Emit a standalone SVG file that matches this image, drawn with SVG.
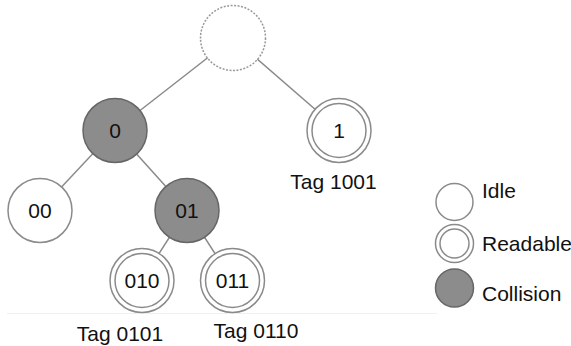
<svg xmlns="http://www.w3.org/2000/svg" width="571" height="346" viewBox="0 0 571 346">
<style>
text{font-family:"Liberation Sans",Arial,sans-serif;font-size:21px;fill:#111}
.c{text-anchor:middle}
.edge{stroke:#8a8a8a;stroke-width:1.5;fill:none}
.idle{fill:#fff;stroke:#8a8a8a;stroke-width:1.5}
.coll{fill:#8c8c8c;stroke:#666;stroke-width:1.5}
.dash{fill:#fff;stroke:#999;stroke-width:1.5;stroke-dasharray:2 1.5}
.in{fill:none;stroke:#8a8a8a;stroke-width:1.5}
</style>
<rect width="571" height="346" fill="#fff"/>
<line x1="7" y1="313.5" x2="437" y2="313.5" stroke="#f0f0f0" stroke-width="1"/>
<g id="connectors">
<line class="edge" x1="233" y1="38" x2="115" y2="130"/>
<line class="edge" x1="233" y1="38" x2="339" y2="130"/>
<line class="edge" x1="115" y1="130" x2="40" y2="210"/>
<line class="edge" x1="115" y1="130" x2="187" y2="210"/>
<line class="edge" x1="187" y1="210" x2="142" y2="280"/>
<line class="edge" x1="187" y1="210" x2="232" y2="280"/>
</g>
<g id="root"><circle class="dash" cx="233" cy="38" r="32.5"/></g>
<g id="n0"><circle class="coll" cx="115" cy="130.5" r="32"/><text class="c" x="115" y="138">0</text></g>
<g id="n1"><circle class="idle" cx="339" cy="130.5" r="32"/><circle class="in" cx="339" cy="130.5" r="27"/><text class="c" x="339" y="138">1</text></g>
<g id="tag1001"><text class="c" x="333.5" y="189">Tag 1001</text></g>
<g id="n00"><circle class="idle" cx="40" cy="210.5" r="32"/><text class="c" x="40" y="218">00</text></g>
<g id="n01"><circle class="coll" cx="187" cy="210.5" r="32"/><text class="c" x="187" y="218">01</text></g>
<g id="n010"><circle class="idle" cx="142" cy="280.5" r="32"/><circle class="in" cx="142" cy="280.5" r="27"/><text class="c" x="142" y="288">010</text></g>
<g id="n011"><circle class="idle" cx="232.5" cy="280.5" r="32"/><circle class="in" cx="232.5" cy="280.5" r="27"/><text class="c" x="232.5" y="288">011</text></g>
<g id="tag0101"><text class="c" x="120" y="341">Tag 0101</text></g>
<g id="tag0110"><text class="c" x="256" y="337.5">Tag 0110</text></g>
<g id="legend">
<circle class="idle" cx="454.5" cy="202" r="18.5"/>
<text x="482" y="198">Idle</text>
<circle class="idle" cx="454.5" cy="243.5" r="19"/>
<circle class="in" cx="454.5" cy="243.5" r="14.5"/>
<text x="482" y="251">Readable</text>
<circle class="coll" cx="454.5" cy="288" r="19"/>
<text x="482" y="301">Collision</text>
</g>
</svg>
